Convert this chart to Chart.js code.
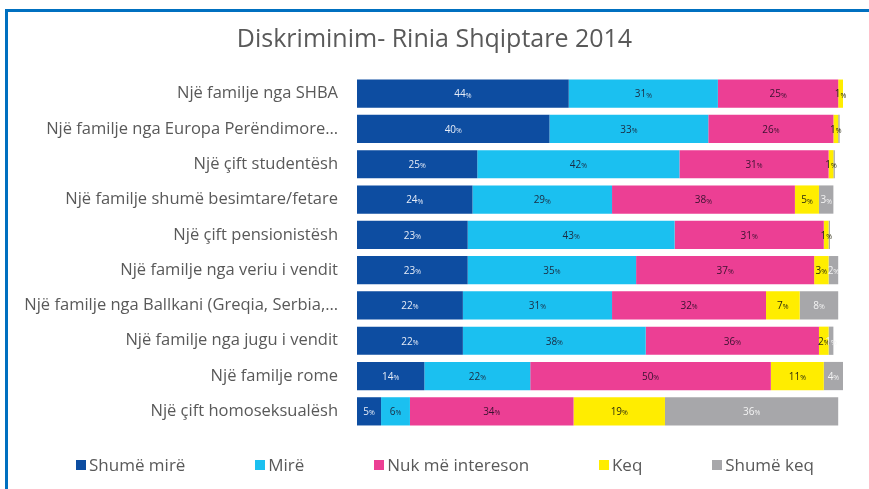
<!DOCTYPE html>
<html>
<head>
<meta charset="utf-8">
<script src="https://cdn.jsdelivr.net/npm/chart.js@4"></script>
<style>
  body { margin: 0; background: #fff; }
  #wrap { position: relative; width: 869px; height: 489px; }
  #frame { position: absolute; left: 5px; top: 9px; right: 0; bottom: 0;
    border-top: 3px solid #0070c0; border-left: 3px solid #0070c0; pointer-events: none; }
  canvas { position: absolute; left: 0; top: 0; }
  #legend { position: absolute; left: 76px; width: 738px; top: 452px; height: 24px;
    display: flex; justify-content: space-between; align-items: center;
    font-family: "Open Sans", sans-serif; font-size: 17px; color: #595959; }
  #legend span.box { display: inline-block; width: 10px; height: 10px; margin-right: 3px; vertical-align: 1px; }
</style>
</head>
<body>
<div id="wrap">
  <canvas id="barChart" width="869" height="489"></canvas>
  <div id="legend"></div>
  <div id="frame"></div>
</div>
<script>
const categories = [
  "Një familje nga SHBA",
  "Një familje nga Europa Perëndimore…",
  "Një çift studentësh",
  "Një familje shumë besimtare/fetare",
  "Një çift pensionistësh",
  "Një familje nga veriu i vendit",
  "Një familje nga Ballkani (Greqia, Serbia,…",
  "Një familje nga jugu i vendit",
  "Një familje rome",
  "Një çift homoseksualësh"
];
const seriesNames = ["Shumë mirë", "Mirë", "Nuk më intereson", "Keq", "Shumë keq"];
const shumeMire = [44, 40, 25, 24, 23, 23, 22, 22, 14, 5];
const mire = [31, 33, 42, 29, 43, 35, 31, 38, 22, 6];
const nukMeIntereson = [25, 26, 31, 38, 31, 37, 32, 36, 50, 34];
const keq = [1, 1, 1, 5, 1, 3, 7, 2, 11, 19];
const shumeKeq = [0, 0.3, 0.3, 3, 0.3, 2, 8, 1, 4, 36];

const colors = ["#0d4da1", "#1bc0f0", "#ec3f94", "#ffed00", "#a7a7aa"];
const labelColors = ["#e6ecf7", "#1b2a40", "#3a1230", "#2a2a10", "#f4f4f4"];

// draws "44%" style labels, small percent sign
const segmentLabels = {
  id: "segmentLabels",
  afterDatasetsDraw(chart) {
    const ctx = chart.ctx;
    ctx.save();
    ctx.textBaseline = "middle";
    chart.data.datasets.forEach((ds, i) => {
      const meta = chart.getDatasetMeta(i);
      meta.data.forEach((bar, j) => {
        const v = ds.data[j];
        if (v < 0.5) return;
        const cx = (bar.x + bar.base) / 2;
        const num = String(Math.round(v));
        ctx.font = "10px 'Open Sans'";
        const w1 = ctx.measureText(num).width;
        ctx.font = "7px 'Open Sans'";
        const w2 = ctx.measureText("%").width;
        const x0 = cx - (w1 + w2) / 2;
        ctx.fillStyle = labelColors[i];
        ctx.textAlign = "left";
        ctx.font = "10px 'Open Sans'";
        ctx.fillText(num, x0, bar.y + 1);
        ctx.font = "7px 'Open Sans'";
        ctx.fillText("%", x0 + w1, bar.y + 2);
      });
    });
    ctx.restore();
  }
};

const seriesData = [shumeMire, mire, nukMeIntereson, keq, shumeKeq];

const ctx = document.getElementById("barChart").getContext("2d");
const chart = new Chart(ctx, {
  type: "bar",
  data: {
    labels: categories,
    datasets: seriesNames.map((name, i) => ({
      label: name,
      data: seriesData[i],
      backgroundColor: colors[i]
    }))
  },
  plugins: [segmentLabels],
  options: {
    indexAxis: "y",
    responsive: false,
    animation: false,
    datasets: { bar: { barPercentage: 0.8, categoryPercentage: 1.0, borderWidth: 0 } },
    layout: { padding: { bottom: 60 } },
    scales: {
      x: { stacked: true, display: false, min: 0, max: 106.4 },
      y: {
        stacked: true,
        grid: { display: false, drawTicks: false },
        border: { display: false },
        ticks: { color: "#595959", font: { family: "Open Sans", size: 16.5 }, padding: 19, autoSkip: false },
        afterFit(scale) { scale.width = 357; }
      }
    },
    plugins: {
      title: {
        display: true,
        text: "Diskriminim- Rinia Shqiptare 2014",
        color: "#595959",
        font: { family: "Open Sans", size: 25, weight: "normal" },
        padding: { top: 25, bottom: 21 }
      },
      legend: { display: false },
      tooltip: { enabled: false }
    }
  }
});

// html legend built from the chart's datasets
const legendEl = document.getElementById("legend");
chart.data.datasets.forEach(ds => {
  const item = document.createElement("div");
  const box = document.createElement("span");
  box.className = "box";
  box.style.background = ds.backgroundColor;
  item.appendChild(box);
  item.appendChild(document.createTextNode(ds.label));
  legendEl.appendChild(item);
});
</script>
</body>
</html>
